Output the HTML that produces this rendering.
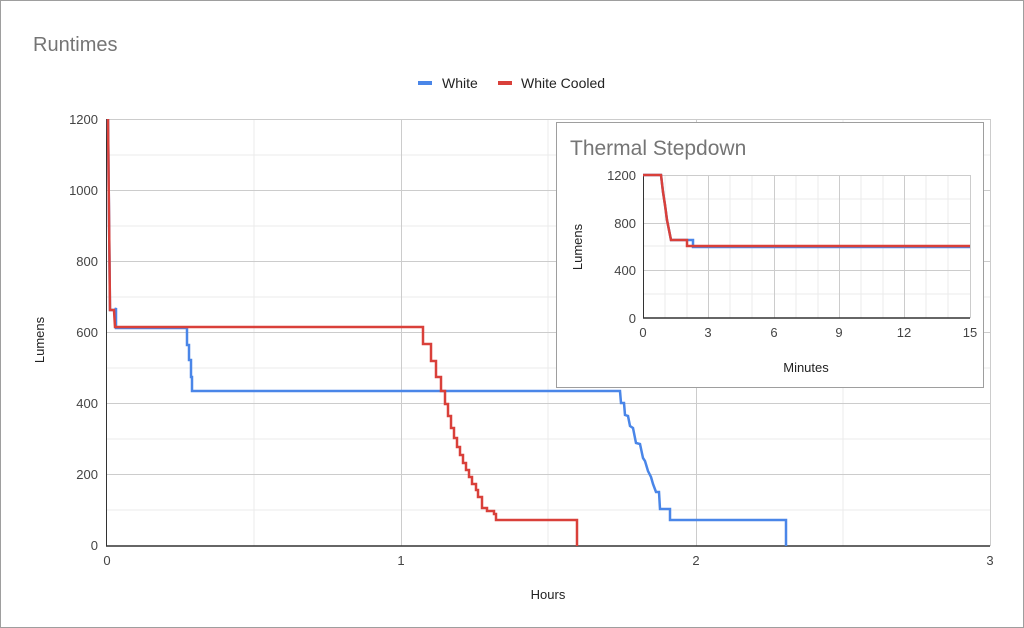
<!DOCTYPE html>
<html><head><style>
body{margin:0;background:#fff}
svg{display:block;font-family:"Liberation Sans",Arial,sans-serif}
</style></head><body>
<svg width="1024" height="628" viewBox="0 0 1024 628">
<rect x="0.5" y="0.5" width="1023" height="627" fill="#fff" stroke="#9e9e9e"/>
<text x="33" y="51" font-size="20" fill="#757575">Runtimes</text>
<line x1="418" y1="83" x2="432" y2="83" stroke="#4a86e8" stroke-width="4"/>
<text x="442" y="88" font-size="14" fill="#222">White</text>
<line x1="498" y1="83" x2="512" y2="83" stroke="#d9403a" stroke-width="4"/>
<text x="521" y="88" font-size="14" fill="#222">White Cooled</text>
<g stroke="#ebebeb" stroke-width="1">
<line x1="107" y1="155" x2="990" y2="155"/><line x1="107" y1="226" x2="990" y2="226"/><line x1="107" y1="297" x2="990" y2="297"/><line x1="107" y1="368" x2="990" y2="368"/><line x1="107" y1="439" x2="990" y2="439"/><line x1="107" y1="510" x2="990" y2="510"/>
<line x1="254" y1="119" x2="254" y2="546"/><line x1="548" y1="119" x2="548" y2="546"/><line x1="843" y1="119" x2="843" y2="546"/>
</g>
<g stroke="#cccccc" stroke-width="1">
<line x1="107" y1="119.5" x2="990" y2="119.5"/><line x1="107" y1="190.5" x2="990" y2="190.5"/><line x1="107" y1="261.5" x2="990" y2="261.5"/><line x1="107" y1="332.5" x2="990" y2="332.5"/><line x1="107" y1="403.5" x2="990" y2="403.5"/><line x1="107" y1="474.5" x2="990" y2="474.5"/>
<line x1="401.5" y1="119" x2="401.5" y2="546"/><line x1="696.5" y1="119" x2="696.5" y2="546"/><line x1="990.5" y1="119" x2="990.5" y2="546"/>
</g>
<line x1="106" y1="546" x2="990" y2="546" stroke="#333" stroke-width="1.5"/>
<line x1="106.5" y1="119" x2="106.5" y2="546" stroke="#333" stroke-width="1"/>
<g font-size="13" fill="#444" text-anchor="end">
<text x="98" y="124">1200</text><text x="98" y="195">1000</text><text x="98" y="266">800</text><text x="98" y="337">600</text><text x="98" y="408">400</text><text x="98" y="479">200</text><text x="98" y="550">0</text>
</g>
<g font-size="13" fill="#444" text-anchor="middle">
<text x="107" y="565">0</text><text x="401" y="565">1</text><text x="696" y="565">2</text><text x="990" y="565">3</text>
</g>
<text x="548" y="599" font-size="13" fill="#222" text-anchor="middle">Hours</text>
<text transform="translate(44,340) rotate(-90)" font-size="13" fill="#222" text-anchor="middle">Lumens</text>
<polyline fill="none" stroke="#4a86e8" stroke-width="2.5" points="108,119 110,310 115,310 116,308 116,328 187,328 187,345 189,345 189,360 191,360 191,377 192,377 192,391 620,391 621,403 624,403 625,415 628,416 630,426 633,428 636,443 640,444 643,458 645,461 648,471 651,477 653,484 656,492 659,492 660,509 670,509 670,520 786,520 786,546"/>
<polyline fill="none" stroke="#d9403a" stroke-width="2.5" points="108,119 110,310 112,310 114,310 115,327 423,327 423,344 431,344 431,361 436,361 436,377 441,377 441,391 445,391 445,404 448,404 448,416 451,416 451,428 454,428 454,438 457,438 457,447 460,447 460,455 463,455 463,463 466,463 466,470 469,470 469,477 472,477 472,484 476,484 476,490 478,490 478,497 482,497 482,508 487,508 487,511 494,511 494,514 496,514 496,520 577,520 577,546"/>
<!-- inset -->
<rect x="556.5" y="122.5" width="427" height="265" fill="#fff" stroke="#9e9e9e"/>
<text x="570" y="155" font-size="21" fill="#757575">Thermal Stepdown</text>
<g stroke="#ebebeb">
<line x1="665" y1="175" x2="665" y2="318"/><line x1="687" y1="175" x2="687" y2="318"/><line x1="730" y1="175" x2="730" y2="318"/><line x1="752" y1="175" x2="752" y2="318"/><line x1="796" y1="175" x2="796" y2="318"/><line x1="818" y1="175" x2="818" y2="318"/><line x1="861" y1="175" x2="861" y2="318"/><line x1="883" y1="175" x2="883" y2="318"/><line x1="926" y1="175" x2="926" y2="318"/><line x1="948" y1="175" x2="948" y2="318"/>
<line x1="643" y1="199" x2="970" y2="199"/><line x1="643" y1="246" x2="970" y2="246"/><line x1="643" y1="294" x2="970" y2="294"/>
</g>
<g stroke="#cccccc">
<line x1="643" y1="175.5" x2="970" y2="175.5"/><line x1="643" y1="223.5" x2="970" y2="223.5"/><line x1="643" y1="270.5" x2="970" y2="270.5"/>
<line x1="708.5" y1="175" x2="708.5" y2="318"/><line x1="774.5" y1="175" x2="774.5" y2="318"/><line x1="839.5" y1="175" x2="839.5" y2="318"/><line x1="904.5" y1="175" x2="904.5" y2="318"/><line x1="970.5" y1="175" x2="970.5" y2="318"/>
</g>
<line x1="643" y1="318" x2="970" y2="318" stroke="#333" stroke-width="1.5"/>
<line x1="643.5" y1="175" x2="643.5" y2="318" stroke="#333"/>
<g font-size="13" fill="#444" text-anchor="end">
<text x="636" y="180">1200</text><text x="636" y="228">800</text><text x="636" y="275">400</text><text x="636" y="323">0</text>
</g>
<g font-size="13" fill="#444" text-anchor="middle">
<text x="643" y="337">0</text><text x="708" y="337">3</text><text x="774" y="337">6</text><text x="839" y="337">9</text><text x="904" y="337">12</text><text x="970" y="337">15</text>
</g>
<text x="806" y="372" font-size="13" fill="#222" text-anchor="middle">Minutes</text>
<text transform="translate(582,247) rotate(-90)" font-size="13" fill="#222" text-anchor="middle">Lumens</text>
<polyline fill="none" stroke="#4a86e8" stroke-width="2.5" points="643,175 661,175 663,192 665,205 667,220 671,240 693,240 693,247 970,247"/>
<polyline fill="none" stroke="#d9403a" stroke-width="2.5" points="643,175 661,175 663,192 665,205 667,220 671,240 687,240 687,246 970,246"/>
</svg>
</body></html>
